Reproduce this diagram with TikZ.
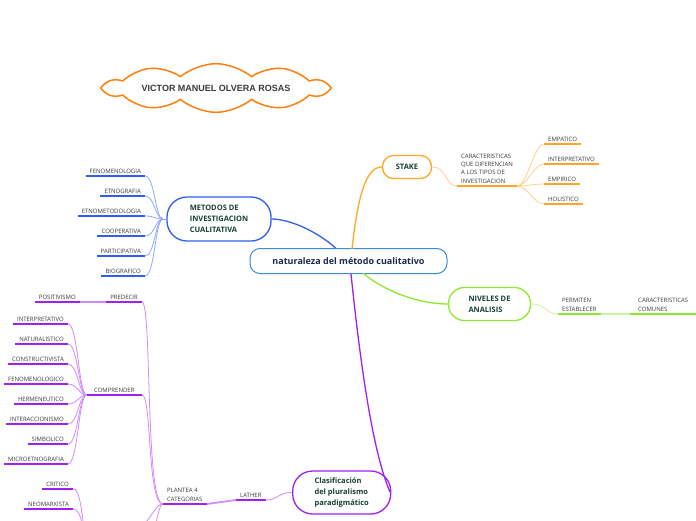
\documentclass[tikz,border=0pt]{standalone}
\usepackage{fontspec}
\setmainfont{Open Sans}
\newfontfamily\cloudfont{Liberation Sans}
\usetikzlibrary{shapes.symbols, positioning}
\definecolor{mmSky}{HTML}{3D8BD0}
\definecolor{mmBlue}{HTML}{2F5EF0}
\definecolor{mmBlueLt}{HTML}{8FA8FF}
\definecolor{mmOrange}{HTML}{FFA726}
\definecolor{mmOrangeLt}{HTML}{FFD08A}
\definecolor{mmGreen}{HTML}{8CEB2A}
\definecolor{mmGreenLt}{HTML}{CBF59C}
\definecolor{mmPurple}{HTML}{A020F0}
\definecolor{mmPurpleLt}{HTML}{D08BFF}
\definecolor{mmInk}{HTML}{173F35}
\definecolor{mmNavy}{HTML}{1B2A4A}
\definecolor{mmGray}{HTML}{3A3A3A}
\definecolor{mmCloud}{HTML}{FF7F0E}

\begin{document}
\begin{tikzpicture}[x=1pt, y=-1pt,
  topic/.style={draw, line width=1.3pt, fill=white, text=mmInk, align=left, inner sep=0pt, font=\bfseries\fontsize{7.5}{11}\selectfont},
  lf/.style={text=mmGray, font=\fontsize{6}{8.3}\selectfont, inner xsep=4pt, inner ysep=2.5pt, align=left},
  bl/.style={mmBlue, line width=1.8pt}, blc/.style={mmBlueLt, line width=0.8pt},
  ol/.style={mmOrange, line width=1.8pt}, olc/.style={mmOrangeLt, line width=0.8pt},
  gl/.style={mmGreen, line width=1.8pt}, glc/.style={mmGreenLt, line width=0.8pt},
  pl/.style={mmPurple, line width=1.8pt}, plc/.style={mmPurpleLt, line width=0.8pt}]
  \useasboundingbox[fill=white] (0,0) rectangle (696,520);

  % title cloud
  \node[cloud, cloud puffs=10, cloud puff arc=80, aspect=8, draw=mmCloud, line width=1.5pt, minimum width=222pt, minimum height=26pt, inner sep=0pt, text=mmGray, font=\cloudfont\bfseries\fontsize{9}{11}\selectfont] (autor) at (216,88) {VICTOR MANUEL OLVERA ROSAS};

  % central topic
  \node[topic, draw=mmSky, line width=1pt, rounded corners=10pt, minimum width=197pt, minimum height=25pt, text=mmNavy, font=\bfseries\fontsize{9}{11}\selectfont] (nat) at (348.5,261) {naturaleza del método cualitativo};

  % metodos
  \node[topic, draw=mmBlue, rounded corners=20pt, minimum width=104pt, minimum height=44pt] (met) at (219,219) {METODOS DE\\INVESTIGACION\\CUALITATIVA};
  \draw[mmBlue, line width=1.3pt] (nat.north) ++(-13,0) .. controls (318,232) and (290,219) .. (met.east);
  \coordinate (mjun) at (163,219);
  \draw[blc] (mjun) -- (met.west);
  \node[lf, anchor=south east] (fen) at (145,176) {FENOMENOLOGIA};
  \node[lf, anchor=south east] (etn) at (145,196) {ETNOGRAFIA};
  \node[lf, anchor=south east] (etm) at (145,216) {ETNOMETODOLOGIA};
  \node[lf, anchor=south east] (coo) at (145,236) {COOPERATIVA};
  \node[lf, anchor=south east] (par) at (145,256) {PARTICIPATIVA};
  \node[lf, anchor=south east] (bio) at (145,276) {BIOGRAFICO};
  \draw[bl] (fen.south west) -- (fen.south east); \draw[blc] (fen.south east) .. controls +(10,0) and +(-8,0) .. (mjun);
  \draw[bl] (etn.south west) -- (etn.south east); \draw[blc] (etn.south east) .. controls +(10,0) and +(-8,0) .. (mjun);
  \draw[bl] (etm.south west) -- (etm.south east); \draw[blc] (etm.south east) .. controls +(10,0) and +(-8,0) .. (mjun);
  \draw[bl] (coo.south west) -- (coo.south east); \draw[blc] (coo.south east) .. controls +(10,0) and +(-8,0) .. (mjun);
  \draw[bl] (par.south west) -- (par.south east); \draw[blc] (par.south east) .. controls +(10,0) and +(-8,0) .. (mjun);
  \draw[bl] (bio.south west) -- (bio.south east); \draw[blc] (bio.south east) .. controls +(10,0) and +(-8,0) .. (mjun);

  % stake
  \node[topic, draw=mmOrange, rounded corners=11pt, minimum width=49pt, minimum height=23pt] (stake) at (407,167) {STAKE};
  \draw[mmOrange, line width=1.3pt] (352,249) .. controls (358,195) and (366,167) .. (stake.west);
  \node[lf, anchor=south west] (carac) at (457,186) {CARACTERISTICAS\\QUE DIFERENCIAN\\A LOS TIPOS DE\\INVESTIGACION};
  \draw[ol] (carac.south west) -- (carac.south east);
  \draw[olc] (stake.east) .. controls +(15,0) and +(-12,0) .. (carac.south west);
  \coordinate (sjun) at (carac.south east);
  \node[lf, anchor=south west] (emp) at (544,144) {EMPATICO};
  \node[lf, anchor=south west] (int) at (544,164) {INTERPRETATIVO};
  \node[lf, anchor=south west] (emr) at (544,184) {EMPIRICO};
  \node[lf, anchor=south west] (hol) at (544,204) {HOLISTICO};
  \draw[ol] (emp.south west) -- (emp.south east); \draw[olc] (sjun) .. controls +(10,0) and +(-10,0) .. (emp.south west);
  \draw[ol] (int.south west) -- (int.south east); \draw[olc] (sjun) .. controls +(10,0) and +(-10,0) .. (int.south west);
  \draw[ol] (emr.south west) -- (emr.south east); \draw[olc] (sjun) .. controls +(10,0) and +(-10,0) .. (emr.south west);
  \draw[ol] (hol.south west) -- (hol.south east); \draw[olc] (sjun) .. controls +(10,0) and +(-10,0) .. (hol.south west);

  % niveles
  \node[topic, draw=mmGreen, rounded corners=16pt, minimum width=82pt, minimum height=33pt] (niv) at (489.5,304) {NIVELES DE\\ANALISIS};
  \draw[mmGreen, line width=1.3pt] (363,273) .. controls (385,292) and (420,304) .. (niv.west);
  \node[lf, anchor=south west] (perm) at (558,314) {PERMITEN\\ESTABLECER};
  \node[lf, anchor=south west, minimum width=66pt] (com) at (630,314) {CARACTERISTICAS\\COMUNES};
  \draw[gl] (perm.south west) -- (perm.south east);
  \draw[gl] (com.south west) -- (com.south east);
  \draw[glc] (niv.east) .. controls +(15,0) and +(-12,0) .. (perm.south west);
  \draw[glc, line width=1.8pt] (perm.south east) -- (com.south west);

  % clasificacion
  \node[topic, draw=mmPurple, rounded corners=20pt, minimum width=98pt, minimum height=43pt] (clas) at (341.7,492.5) {Clasificación\\del pluralismo\\paradigmático};
  \draw[mmPurple, line width=1.3pt] (351,274) .. controls (360,360) and (372,450) .. (390,492);
  \node[lf, anchor=south west] (lat) at (236,500) {LATHER};
  \node[lf, anchor=south west] (plan) at (163,504) {PLANTEA 4\\CATEGORIAS};
  \draw[pl] (lat.south west) -- (lat.south east);
  \draw[pl] (plan.south west) -- (plan.south east);
  \draw[plc] (clas.west) .. controls +(-14,0) and +(12,0) .. (lat.south east);
  \draw[plc, line width=1.8pt] (lat.south west) -- (plan.south east);
  \coordinate (pjun) at (plan.south west);

  \node[lf, anchor=south east] (pred) at (142,302) {PREDECIR};
  \node[lf, anchor=south east] (posi) at (80,302) {POSITIVISMO};
  \draw[pl] (pred.south west) -- (pred.south east);
  \draw[pl] (posi.south west) -- (posi.south east);
  \draw[plc, line width=1.8pt] (posi.south east) -- (pred.south west);
  \draw[plc] (pred.south east) .. controls (152,302) and (145,504) .. (pjun);

  \node[lf, anchor=south east, minimum width=55pt] (comp) at (142,395) {COMPRENDER};
  \draw[pl] (comp.south west) -- (comp.south east);
  \draw[plc] (comp.south east) .. controls (152,395) and (147,504) .. (pjun);
  \coordinate (cjun) at (comp.south west);
  \node[lf, anchor=south east] (c1) at (68,324) {INTERPRETATIVO};
  \node[lf, anchor=south east] (c2) at (68,344) {NATURALISTICO};
  \node[lf, anchor=south east] (c3) at (68,364) {CONSTRUCTIVISTA};
  \node[lf, anchor=south east] (c4) at (68,384) {FENOMENOLOGICO};
  \node[lf, anchor=south east] (c5) at (68,404) {HERMENEUTICO};
  \node[lf, anchor=south east] (c6) at (68,424) {INTERACCIONISMO};
  \node[lf, anchor=south east] (c7) at (68,444) {SIMBOLICO};
  \node[lf, anchor=south east] (c8) at (68,464) {MICROETNOGRAFIA};
  \draw[pl] (c1.south west) -- (c1.south east); \draw[plc] (c1.south east) .. controls +(10,0) and +(-8,0) .. (cjun);
  \draw[pl] (c2.south west) -- (c2.south east); \draw[plc] (c2.south east) .. controls +(10,0) and +(-8,0) .. (cjun);
  \draw[pl] (c3.south west) -- (c3.south east); \draw[plc] (c3.south east) .. controls +(10,0) and +(-8,0) .. (cjun);
  \draw[pl] (c4.south west) -- (c4.south east); \draw[plc] (c4.south east) .. controls +(10,0) and +(-8,0) .. (cjun);
  \draw[pl] (c5.south west) -- (c5.south east); \draw[plc] (c5.south east) .. controls +(10,0) and +(-8,0) .. (cjun);
  \draw[pl] (c6.south west) -- (c6.south east); \draw[plc] (c6.south east) .. controls +(10,0) and +(-8,0) .. (cjun);
  \draw[pl] (c7.south west) -- (c7.south east); \draw[plc] (c7.south east) .. controls +(10,0) and +(-8,0) .. (cjun);
  \draw[pl] (c8.south west) -- (c8.south east); \draw[plc] (c8.south east) .. controls +(10,0) and +(-8,0) .. (cjun);

  % lower group, running off the page
  \coordinate (djun) at (88,545);
  \coordinate (ejun) at (100,620);
  \node[lf, anchor=south east] (crit) at (73,489) {CRITICO};
  \node[lf, anchor=south east] (neo) at (73,509) {NEOMARXISTA};
  \draw[pl] (crit.south west) -- (crit.south east); \draw[plc] (crit.south east) .. controls +(10,0) and +(-6,-10) .. (djun);
  \draw[pl] (neo.south west) -- (neo.south east); \draw[plc] (neo.south east) .. controls +(10,0) and +(-6,-10) .. (djun);
  \draw[plc] (pjun) .. controls (150,504) and (150,545) .. (djun);
  \draw[plc] (pjun) .. controls (153,504) and (152,620) .. (ejun);
\end{tikzpicture}
\end{document}
